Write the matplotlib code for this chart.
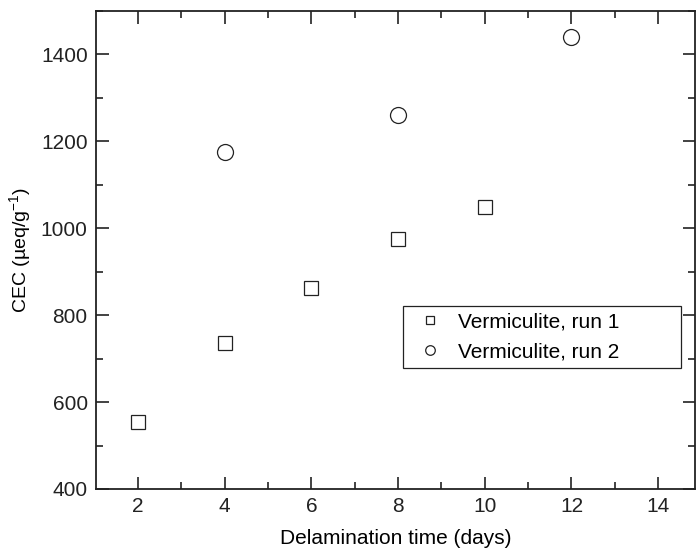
import matplotlib
matplotlib.use("Agg")
import matplotlib.pyplot as plt
from matplotlib.ticker import MultipleLocator
from matplotlib.patches import Rectangle

plt.rcParams['font.family'] = ['Liberation Sans', 'DejaVu Sans']
plt.rcParams['mathtext.default'] = 'regular'

run1_x = [2, 4, 6, 8, 10]
run1_y = [555, 735, 862, 975, 1050]
run2_x = [4, 8, 12]
run2_y = [1175, 1260, 1440]

fig = plt.figure(figsize=(6.96, 5.52), dpi=100)
ax = fig.add_axes([96/696, 63/552, 599/696, 478/552])
ax.plot(run1_x, run1_y, linestyle='none', marker='s', markersize=10, markerfacecolor='white',
        markeredgecolor='#222222', markeredgewidth=0.9, label='Vermiculite, run 1')
ax.plot(run2_x, run2_y, linestyle='none', marker='o', markersize=11.5, markerfacecolor='white',
        markeredgecolor='#222222', markeredgewidth=0.9, label='Vermiculite, run 2')

ax.set_xlim(1.03, 14.85)
ax.set_ylim(400, 1500)
ax.xaxis.set_major_locator(MultipleLocator(2))
ax.xaxis.set_minor_locator(MultipleLocator(1))
ax.yaxis.set_major_locator(MultipleLocator(200))
ax.yaxis.set_minor_locator(MultipleLocator(100))
ax.tick_params(which='both', direction='in', top=True, right=True, colors='#222222',
               labelsize=15, width=1.2, pad=6)
ax.tick_params(which='major', length=9)
ax.tick_params(which='minor', length=5)
for s in ax.spines.values():
    s.set_linewidth(1.3)
    s.set_color('#222222')
ax.set_xlabel('Delamination time (days)', fontsize=15, labelpad=9)
ax.set_ylabel('CEC (µeq/g$^{-1}$)', fontsize=14)
ax.yaxis.set_label_coords(-(96-33)/599, 0.5)

# legend (frame drawn separately to match the wide box)
lx0, lx1 = (403-96)/599, (681-96)/599
ly0, ly1 = (489-368)/478, (489-306)/478
leg = ax.legend(loc='center left', bbox_to_anchor=(lx0, (ly0+ly1)/2), fontsize=15,
                frameon=False, markerscale=0.6, handlelength=2.0,
                handletextpad=0.35, borderpad=0.3, labelspacing=0.55, borderaxespad=0)
ax.add_patch(Rectangle((lx0, ly0), lx1-lx0, ly1-ly0, transform=ax.transAxes,
                       fill=True, facecolor='white', edgecolor='#222222', linewidth=0.9,
                       zorder=4))
leg.set_zorder(5)

fig.savefig('out.png', dpi=100)
